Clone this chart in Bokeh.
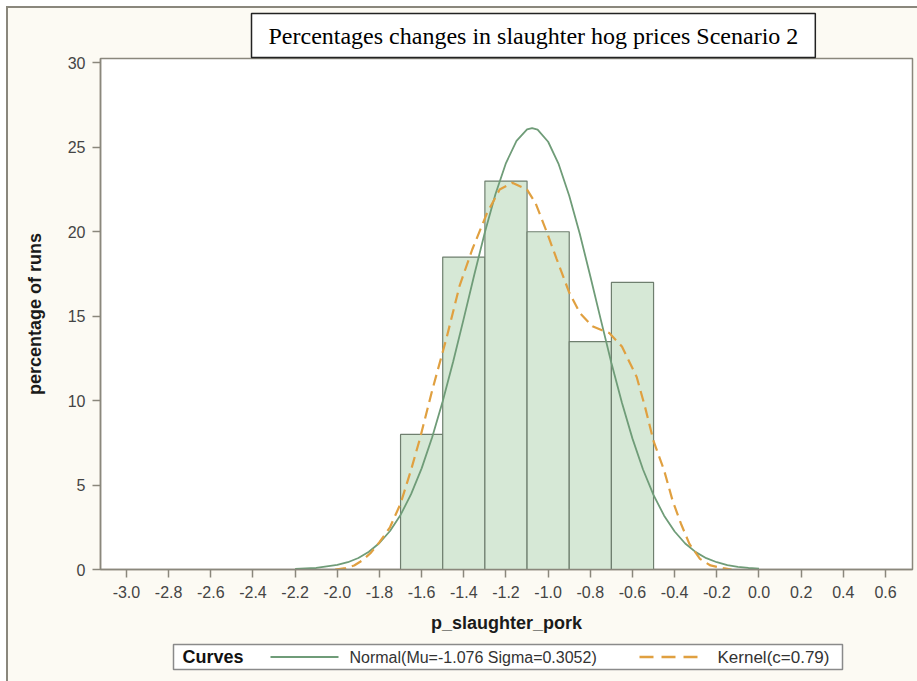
from bokeh.plotting import figure
from bokeh.layouts import column
from bokeh.models import (Range1d, FixedTicker, PrintfTickFormatter,
                          ColumnDataSource)
from bokeh.core.properties import value
from bokeh.embed import file_html
from bokeh.resources import INLINE

# ---------------- data ----------------
bin_left = [-1.7, -1.5, -1.3, -1.1, -0.9, -0.7]
bin_right = [-1.5, -1.3, -1.1, -0.9, -0.7, -0.5]
pct_runs = [8.0, 18.5, 23.0, 20.0, 13.5, 17.0]

normal_x = [-2.2, -2.1, -2.0, -1.95, -1.9, -1.85, -1.8, -1.75, -1.7, -1.65, -1.6,
            -1.55, -1.5, -1.45, -1.4, -1.35, -1.3, -1.25, -1.2, -1.15, -1.1, -1.076,
            -1.05, -1.0, -0.95, -0.9, -0.85, -0.8, -0.75, -0.7, -0.65, -0.6, -0.55,
            -0.5, -0.45, -0.4, -0.35, -0.3, -0.25, -0.2, -0.15, -0.1, -0.05, 0.0]
normal_y = [0.03, 0.09, 0.27, 0.43, 0.68, 1.05, 1.57, 2.28, 3.23, 4.46, 5.99,
            7.83, 9.96, 12.33, 14.87, 17.47, 19.97, 22.22, 24.07, 25.38, 26.06, 26.14,
            26.05, 25.33, 24.00, 22.13, 19.88, 17.37, 14.78, 12.23, 9.87, 7.75, 5.92,
            4.40, 3.19, 2.25, 1.54, 1.03, 0.67, 0.43, 0.26, 0.16, 0.09, 0.05]

kernel_x = [-2.01, -1.96, -1.92, -1.88, -1.84, -1.80, -1.75, -1.70, -1.65, -1.61,
            -1.55, -1.48, -1.42, -1.36, -1.29, -1.23, -1.17, -1.10, -1.06, -1.01,
            -0.96, -0.90, -0.85, -0.79, -0.71, -0.65, -0.58, -0.54, -0.50, -0.45,
            -0.41, -0.37, -0.33, -0.28, -0.23, -0.17, -0.13]
kernel_y = [0.0, 0.08, 0.24, 0.55, 1.0, 1.62, 2.5, 3.9, 5.9, 7.66,
            10.6, 13.8, 16.8, 18.95, 21.1, 22.5, 22.9, 22.5, 21.7, 20.1,
            18.4, 16.4, 15.2, 14.4, 14.0, 13.2, 11.4, 9.6, 7.6, 5.87,
            4.09, 2.71, 1.52, 0.63, 0.24, 0.08, 0.0]

x_ticks = [-3.0, -2.8, -2.6, -2.4, -2.2, -2.0, -1.8, -1.6, -1.4, -1.2, -1.0,
           -0.8, -0.6, -0.4, -0.2, 0.0, 0.2, 0.4, 0.6]
y_ticks = [0, 5, 10, 15, 20, 25, 30]

title_text = "Percentages changes in slaughter hog prices Scenario 2"
x_label = "p_slaughter_pork"
y_label = "percentage of runs"
legend_title = "Curves"
legend_labels = ["Normal(Mu=-1.076 Sigma=0.3052)", "Kernel(c=0.79)"]

# ---------------- styles ----------------
CREAM = "#fcfaf3"
AXIS_C = "#8a877c"
BAR_FILL = "#d6e8d6"
BAR_LINE = "#6f7f6f"
NORM_C = "#6f9c78"
KERN_C = "#e0a040"
SANS = "Liberation Sans"

# canvas origin on the page (css margin 6 + border 2)
OX, OY = 8, 8
FRAME_L, FRAME_R, FRAME_T, FRAME_B = 100, 912, 58, 569   # page pixels
MAIN_BOTTOM = 636
PAGE_W, PAGE_H = 917, 681

p = figure(width=PAGE_W - OX, height=MAIN_BOTTOM - OY, output_backend="svg",
           toolbar_location=None,
           x_range=Range1d(-3.123, 0.728), y_range=Range1d(0.0, 30.26),
           min_border_left=FRAME_L - OX, min_border_right=PAGE_W - FRAME_R,
           min_border_top=FRAME_T - OY, min_border_bottom=MAIN_BOTTOM - FRAME_B)
p.background_fill_color = "white"
p.border_fill_color = CREAM
p.outline_line_color = AXIS_C
p.outline_line_width = 1.5
p.grid.visible = False

src = ColumnDataSource(dict(left=bin_left, right=bin_right, top=pct_runs,
                            bottom=[0] * len(pct_runs)))
p.quad(left="left", right="right", top="top", bottom="bottom", source=src,
       fill_color=BAR_FILL, line_color=BAR_LINE, line_width=1.2)

p.line(normal_x, normal_y, line_color=NORM_C, line_width=1.8)
p.line(kernel_x, kernel_y, line_color=KERN_C, line_width=2.2, line_dash="11 6")

for ax in (p.xaxis[0], p.yaxis[0]):
    ax.axis_line_color = AXIS_C
    ax.axis_line_width = 1.5
    ax.major_tick_line_color = AXIS_C
    ax.major_tick_line_width = 1.5
    ax.major_tick_out = 8
    ax.major_tick_in = 0
    ax.minor_tick_line_color = None
    ax.major_label_text_font = SANS
    ax.major_label_text_font_size = "16px"
    ax.major_label_text_color = "#444444"
    ax.axis_label_text_font = SANS
    ax.axis_label_text_font_size = "18px"
    ax.axis_label_text_font_style = "bold"
    ax.axis_label_text_color = "#1a1a1a"

p.xaxis.ticker = FixedTicker(ticks=x_ticks)
p.xaxis.formatter = PrintfTickFormatter(format="%.1f")
p.xaxis.major_label_standoff = 8
p.xaxis.axis_label = x_label
p.xaxis.axis_label_standoff = 12

p.yaxis.ticker = FixedTicker(ticks=y_ticks)
p.yaxis.major_label_standoff = 7
p.yaxis.axis_label = y_label
p.yaxis.axis_label_standoff = 20

# ---- boxed title (Title model in the top panel) ----
p.title.text = title_text
p.title.text_font = "Liberation Serif"
p.title.text_font_size = "24px"
p.title.text_font_style = "normal"
p.title.text_color = "black"
p.title.align = "left"
p.title.offset = 251 - FRAME_L
p.title.standoff = 2
p.title.background_fill_color = "white"
p.title.border_line_color = "#222222"
p.title.border_line_width = 1.5
p.title.padding = dict(left=17, right=17, top=9, bottom=9)

# ---- legend strip below the chart (page-pixel coordinates; its frame is
#      aligned by the column with the main frame) ----
leg = figure(width=PAGE_W - OX, height=PAGE_H - MAIN_BOTTOM, output_backend="svg",
             toolbar_location=None, x_range=Range1d(FRAME_L, FRAME_R),
             y_range=Range1d(PAGE_H, MAIN_BOTTOM), min_border=0,
             x_axis_type=None, y_axis_type=None)
leg.background_fill_color = CREAM
leg.border_fill_color = CREAM
leg.outline_line_color = None
leg.grid.visible = False
LY = 656.5
leg.quad(left=[173], right=[842], top=[644], bottom=[669], fill_color="white",
         line_color="#8a8a8a", line_width=1.5)
leg.text(x=[182], y=[LY], text=[legend_title], text_align="left",
         text_baseline="middle", text_font=value(SANS), text_font_size="18px",
         text_font_style="bold", text_color="#111111")
leg.line(x=[270, 338], y=[LY, LY], line_color=NORM_C, line_width=2)
leg.text(x=[349], y=[LY], text=[legend_labels[0]], text_align="left",
         text_baseline="middle", text_font=value(SANS), text_font_size="16px",
         text_color="#333333")
leg.line(x=[639, 702], y=[LY, LY], line_color=KERN_C, line_width=2.5,
         line_dash="14 8")
leg.text(x=[717], y=[LY], text=[legend_labels[1]], text_align="left",
         text_baseline="middle", text_font=value(SANS), text_font_size="17px",
         text_color="#333333")

layout = column(p, leg, spacing=0,
                styles={"margin-left": "6px", "margin-top": "6px",
                        "border-left": "2px solid #8a877c",
                        "border-top": "2px solid #8a877c",
                        "background-color": CREAM})

open("out.html", "w").write(file_html(layout, INLINE))
